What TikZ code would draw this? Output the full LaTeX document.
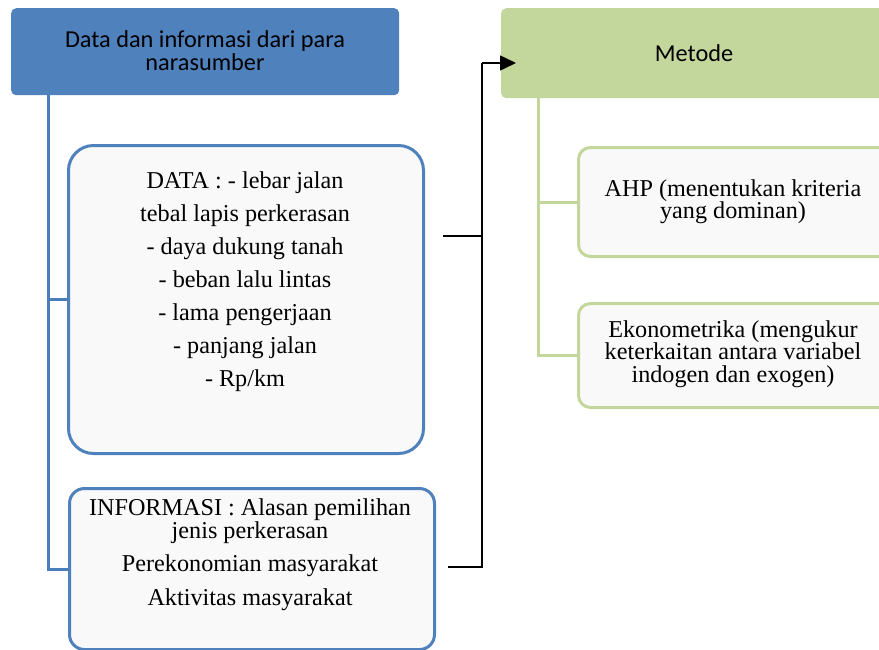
\documentclass[tikz,border=0pt]{standalone}
\usepackage{fontspec}
\setmainfont{Liberation Serif}
\newfontfamily\calib{Carlito}
\usetikzlibrary{arrows.meta}
\definecolor{hdrblue}{HTML}{4F81BD}
\definecolor{lnblue}{HTML}{4A7EBB}
\definecolor{hdrgreen}{HTML}{C3D69B}
\definecolor{boxfill}{HTML}{F9F9F9}
\tikzset{
  hdr/.style={draw=none, rounded corners=5pt, anchor=north west, inner sep=0pt},
  bluebox/.style={draw=hdrblue, line width=3pt, fill=boxfill, anchor=north west, inner sep=0pt},
  greenbox/.style={draw=hdrgreen, line width=3pt, fill=boxfill, rounded corners=12pt, anchor=north west, inner sep=0pt},
  bluetree/.style={draw=lnblue, line width=3pt},
  greentree/.style={draw=hdrgreen, line width=3pt},
  conn/.style={draw=black, line width=1.6pt},
  txt/.style={align=center, inner sep=0pt, font=\fontsize{24.2}{33}\selectfont},
  calibtxt/.style={align=center, inner sep=0pt, font=\calib\fontsize{24.3}{23}\selectfont}
}
\begin{document}
\begin{tikzpicture}[x=1pt,y=-1pt]
\clip (0,0) rectangle (879,649);
\fill[white] (0,0) rectangle (879,649);
% headers
\node[hdr, fill=hdrblue, minimum width=388pt, minimum height=87pt] (top) at (11,8) {};
\node[calibtxt] (toptxt) at (205,51) {Data dan informasi dari para\\narasumber};
\node[hdr, fill=hdrgreen, minimum width=388pt, minimum height=90pt] (metode) at (501,8) {};
\node[calibtxt] (metodetxt) at (694,53) {Metode};
% left boxes
\node[bluebox, rounded corners=25pt, minimum width=355pt, minimum height=308pt] (data) at (67,144) {};
\node[txt] (datatxt) at (245,282) {DATA : - lebar jalan\\tebal lapis perkerasan\\- daya dukung tanah\\- beban lalu lintas\\- lama pengerjaan\\- panjang jalan\\- Rp/km};
\node[bluebox, rounded corners=15pt, minimum width=365pt, minimum height=161pt] (info) at (68,487) {};
\node[txt, font=\fontsize{24.2}{23}\selectfont] (infotxt) at (250,555) {INFORMASI : Alasan pemilihan\\jenis perkerasan\\[10pt]Perekonomian masyarakat\\[11pt]Aktivitas masyarakat};
% right boxes
\node[greenbox, minimum width=312pt, minimum height=109pt] (ahp) at (577,146) {};
\node[txt, font=\fontsize{24.2}{22}\selectfont] (ahptxt) at (733,202) {AHP (menentukan kriteria\\yang dominan)};
\node[greenbox, minimum width=312pt, minimum height=104pt] (eko) at (577,302) {};
\node[txt, font=\fontsize{24.2}{22.5}\selectfont] (ekotxt) at (733,354) {Ekonometrika (mengukur\\keterkaitan antara variabel\\indogen dan exogen)};
% trees
\draw[bluetree] ([xshift=37pt]top.south west) |- (data.west);
\draw[bluetree] ([xshift=37pt]top.south west) |- (info.west);
\draw[greentree] ([xshift=37pt]metode.south west) |- (ahp.west);
\draw[greentree] ([xshift=37pt]metode.south west) |- (eko.west);
% connectors
\coordinate (d1) at (443,236);
\coordinate (i1) at (448,567);
\coordinate (bus) at (482,63);
\coordinate (mtip) at (516,63);
\draw[conn] (d1) -| (bus);
\draw[conn] (i1) -| (bus);
\draw[conn, -{Triangle[length=16pt,width=15pt]}] (bus) -- (mtip);
\end{tikzpicture}
\end{document}
